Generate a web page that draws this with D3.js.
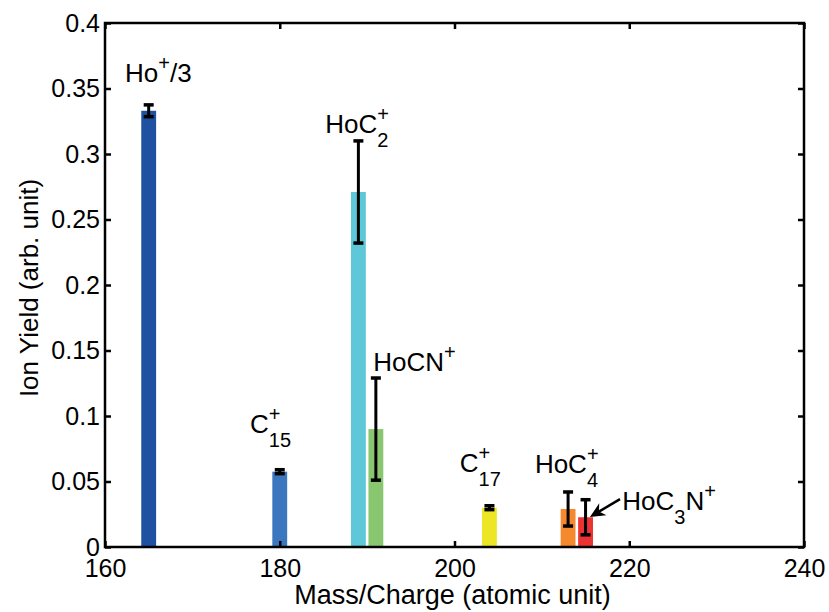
<!DOCTYPE html>
<html>
<head>
<meta charset="utf-8">
<script src="https://cdn.jsdelivr.net/npm/d3@7"></script>
<style>
  body { margin: 0; background: #fff; }
  svg { display: block; font-family: 'Liberation Sans', Arial, sans-serif; }
  .tick text { font-size: 25px; fill: #000; }
</style>
</head>
<body>
<svg id="chart" width="829" height="612"></svg>
<script>
// ion peaks
const masses = [165, 180, 189, 191, 204, 213, 215];
const yields = [0.333, 0.0575, 0.271, 0.090, 0.030, 0.029, 0.0227];
const errors = [0.0045, 0.0015, 0.039, 0.039, 0.0015, 0.013, 0.0134];
const colors = ['#1f51a3', '#3a77bf', '#5ec8d8', '#88c670', '#ece624', '#f5892e', '#ec3333'];

// label text pieces: [text, kind, stacked superscript]
const labels = [
  [['Ho', 'n'], ['+', 'sup'], ['/3', 'n']],
  [['C', 'n'], ['15', 'sub', '+']],
  [['HoC', 'n'], ['2', 'sub', '+']],
  [['HoCN', 'n'], ['+', 'sup']],
  [['C', 'n'], ['17', 'sub', '+']],
  [['HoC', 'n'], ['4', 'sub', '+']],
  [['HoC', 'n'], ['3', 'sub'], ['N', 'n'], ['+', 'sup']]
];
// label anchor in data units (mass, yield)
const labelX = [162.3, 176.6, 185.2, 190.7, 200.6, 209.2, 219.2];
const labelY = [0.355, 0.087, 0.316, 0.134, 0.0575, 0.0567, 0.0282];

const xTicks = [160, 180, 200, 220, 240];
const yTicks = [0, 0.05, 0.1, 0.15, 0.2, 0.25, 0.3, 0.35, 0.4];
const xDomain = [160, 240];
const yDomain = [0, 0.4];
const barWidth = 1.7;

const xLabelText = 'Mass/Charge (atomic unit)';
const yLabelText = 'Ion Yield (arb. unit)';

const svg = d3.select('#chart');
const margin = { top: 23, right: 25, bottom: 65, left: 105 };
const width = +svg.attr('width');
const height = +svg.attr('height');
const innerWidth = width - margin.left - margin.right;
const innerHeight = height - margin.top - margin.bottom;

const x = d3.scaleLinear().domain(xDomain).range([0, innerWidth]);
const y = d3.scaleLinear().domain(yDomain).range([innerHeight, 0]);

const g = svg.append('g')
  .attr('transform', `translate(${margin.left},${margin.top})`);

// bars
g.selectAll('rect.bar').data(masses)
  .enter().append('rect')
  .attr('class', 'bar')
  .attr('x', d => x(d - barWidth / 2))
  .attr('width', x(barWidth) - x(0))
  .attr('y', (d, i) => y(yields[i]))
  .attr('height', (d, i) => y(0) - y(yields[i]))
  .attr('fill', (d, i) => colors[i]);

// error bars
const capW = 5;
const eb = g.selectAll('g.err').data(masses)
  .enter().append('g')
  .attr('class', 'err')
  .attr('stroke', '#000');
eb.append('line')
  .attr('stroke-width', 3)
  .attr('x1', d => x(d)).attr('x2', d => x(d))
  .attr('y1', (d, i) => y(yields[i] - errors[i]))
  .attr('y2', (d, i) => y(yields[i] + errors[i]));
eb.append('line')
  .attr('stroke-width', 3.5)
  .attr('x1', d => x(d) - capW).attr('x2', d => x(d) + capW)
  .attr('y1', (d, i) => y(yields[i] - errors[i]))
  .attr('y2', (d, i) => y(yields[i] - errors[i]));
eb.append('line')
  .attr('stroke-width', 3.5)
  .attr('x1', d => x(d) - capW).attr('x2', d => x(d) + capW)
  .attr('y1', (d, i) => y(yields[i] + errors[i]))
  .attr('y2', (d, i) => y(yields[i] + errors[i]));

// axes, ticks inside on all four sides
const xAxis = d3.axisBottom(x).tickValues(xTicks).tickSizeInner(-6).tickSizeOuter(0).tickPadding(12).tickFormat(d3.format('d'));
const yAxis = d3.axisLeft(y).tickValues(yTicks).tickSizeInner(-6).tickSizeOuter(0).tickPadding(5).tickFormat(d => d === 0 ? '0' : String(d));

const xAxisG = g.append('g').attr('transform', `translate(0,${innerHeight})`).call(xAxis);
const yAxisG = g.append('g').call(yAxis);
const topG = g.append('g').call(d3.axisTop(x).tickValues(xTicks).tickSizeInner(-6).tickSizeOuter(0).tickFormat(''));
const rightG = g.append('g').attr('transform', `translate(${innerWidth},0)`)
  .call(d3.axisRight(y).tickValues(yTicks).tickSizeInner(-6).tickSizeOuter(0).tickFormat(''));

[xAxisG, yAxisG, topG, rightG].forEach(a => {
  a.select('.domain').remove();
  a.selectAll('.tick line').attr('stroke', '#000').attr('stroke-width', 2.5);
});
xAxisG.selectAll('text').attr('font-family', null);
yAxisG.selectAll('text').attr('font-family', null);

g.append('rect')
  .attr('width', innerWidth).attr('height', innerHeight)
  .attr('fill', 'none').attr('stroke', '#000').attr('stroke-width', 2.5);

// axis labels
svg.append('text')
  .attr('x', margin.left + innerWidth / 2 - 2)
  .attr('y', 604)
  .attr('text-anchor', 'middle')
  .attr('font-size', 27)
  .text(xLabelText);

svg.append('text')
  .attr('transform', `translate(38,${margin.top + innerHeight / 2 + 3}) rotate(-90)`)
  .attr('text-anchor', 'middle')
  .attr('font-size', 26)
  .text(yLabelText);

// peak labels with sub/superscripts
const mainSize = 26;
const smallSize = 20;
labels.forEach((parts, i) => {
  const lg = g.append('g')
    .attr('transform', `translate(${x(labelX[i])},${y(labelY[i])})`);
  let cx = 0;
  parts.forEach(p => {
    const kind = p[1];
    if (kind === 'n') {
      const t = lg.append('text').attr('x', cx).attr('font-size', mainSize).text(p[0]);
      cx += t.node().getComputedTextLength();
    } else {
      const t = lg.append('text').attr('x', cx)
        .attr('y', kind === 'sup' ? -12 : 14)
        .attr('font-size', smallSize).text(p[0]);
      let w = t.node().getComputedTextLength();
      if (p[2]) {
        const s = lg.append('text').attr('x', cx).attr('y', -12)
          .attr('font-size', smallSize).text(p[2]);
        w = Math.max(w, s.node().getComputedTextLength());
      }
      cx += w;
    }
  });
});

// arrow to HoC3N+ bar
const arrowFrom = [218.94, 0.0366];
const arrowTo = [215.5, 0.0229];
const ax1 = x(arrowFrom[0]), ay1 = y(arrowFrom[1]);
const ax2 = x(arrowTo[0]), ay2 = y(arrowTo[1]);
const ang = Math.atan2(ay2 - ay1, ax2 - ax1);
const hl = 15, hw = 7;
const bx = ax2 - hl * Math.cos(ang), by = ay2 - hl * Math.sin(ang);
const nx = -Math.sin(ang), ny = Math.cos(ang);
const mx = ax2 - hl * 0.7 * Math.cos(ang), my = ay2 - hl * 0.7 * Math.sin(ang);
g.append('line')
  .attr('x1', ax1).attr('y1', ay1).attr('x2', mx).attr('y2', my)
  .attr('stroke', '#000').attr('stroke-width', 2.5);
g.append('path')
  .attr('d', `M${ax2},${ay2}L${bx + nx * hw},${by + ny * hw}L${mx},${my}L${bx - nx * hw},${by - ny * hw}Z`)
  .attr('fill', '#000');
</script>
</body>
</html>
